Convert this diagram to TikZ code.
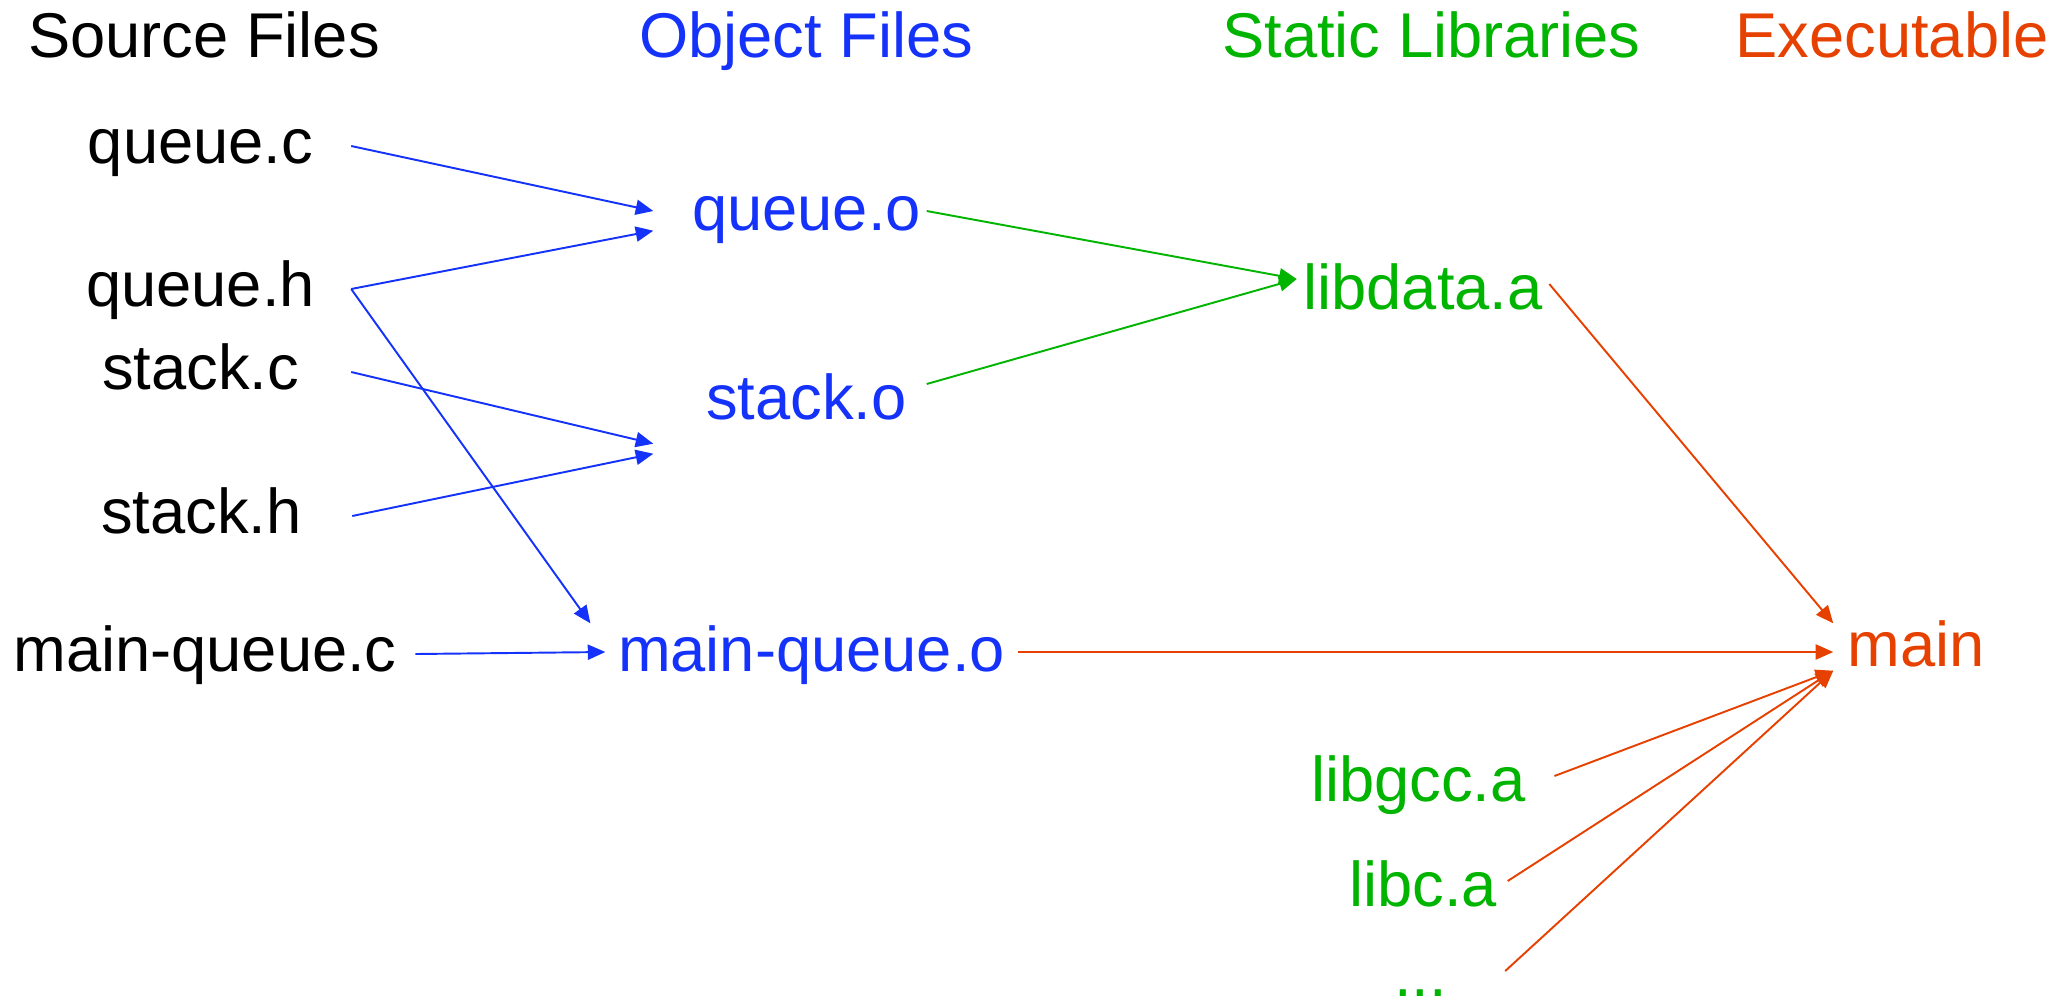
\documentclass[tikz,border=0pt]{standalone}
\usepackage{fontspec}
\setmainfont{Liberation Sans}
\usetikzlibrary{arrows.meta}
\definecolor{objblue}{RGB}{20,50,250}
\definecolor{libgreen}{RGB}{0,180,0}
\definecolor{exered}{RGB}{230,65,0}

\begin{document}
\begin{tikzpicture}[
    every node/.style={font=\fontsize{18pt}{21pt}\selectfont, inner sep=0pt, anchor=base},
    src/.style={minimum width=3cm, inner xsep=0.18cm, text height=0.34cm, text depth=0pt},
    obj/.style={objblue, minimum width=3.05cm, inner xsep=0.12cm, text height=0.38cm, text depth=0pt},
    lib/.style={libgreen, minimum width=1.68cm, inner xsep=0.06cm, text height=0.5cm, text depth=0pt},
    exe/.style={exered, inner xsep=0.14cm, text height=0.42cm, text depth=0.04cm},
    dep/.style={-{Triangle[length=5pt,width=4.3pt]}, line width=0.55pt}
  ]
  \useasboundingbox (0,0) rectangle (20.6,-10.01);

  \node (srchead) at (2.04,-0.57) {Source Files};
  \node[objblue] (objhead) at (8.06,-0.57) {Object Files};
  \node[libgreen] (libhead) at (14.315,-0.57) {Static Libraries};
  \node[exered] (exehead) at (18.92,-0.57) {Executable};

  \node[src] (qc) at (2.005,-1.63) {queue.c};
  \node[src] (qh) at (2.005,-3.06) {queue.h};
  \node[src] (sc) at (2.005,-3.89) {stack.c};
  \node[src] (sh) at (2.015,-5.33) {stack.h};
  \node[src] (mqc) at (2.05,-6.71) {main-queue.c};

  \node[obj] (qo) at (8.065,-2.30) {queue.o};
  \node[obj] (so) at (8.065,-4.19) {stack.o};
  \node[obj] (mqo) at (8.115,-6.71) {main-queue.o};

  \node[lib] (lib) at (14.23,-3.09) {libdata.a};
  \node[lib] (gcc) at (14.185,-8.01) {libgcc.a};
  \node[lib] (libc) at (14.23,-9.06) {libc.a};
  \node[lib] (more) at (14.205,-9.96) {...};

  \node[exe] (main) at (19.165,-6.66) {main};

  \draw[dep, objblue] (qc.east) -- (qo.west);
  \draw[dep, objblue] (qh.east) -- (qo.south west);
  \draw[dep, objblue] (qh.east) -- ([shift={(-0.15,0.09)}]mqo.north west);
  \draw[dep, objblue] (sc.east) -- ([yshift=-0.24cm]so.south west);
  \draw[dep, objblue] (sh.east) -- ([yshift=-0.34cm]so.south west);
  \draw[dep, objblue] (mqc.east) -- (mqo.west);

  \draw[dep, libgreen] ([xshift=-0.33cm]qo.east) -- ([yshift=0.05cm]lib.west);
  \draw[dep, libgreen] ([shift={(-0.33,0.16)}]so.east) -- ([yshift=0.05cm]lib.west);

  \draw[dep, exered] (lib.east) -- (main.north west);
  \draw[dep, exered] (mqo.east) -- (mqo.east -| main.west);
  \draw[dep, exered] ([xshift=0.22cm]gcc.east) -- (main.south west);
  \draw[dep, exered] (libc.east) -- (main.south west);
  \draw[dep, exered] (more.east) -- (main.south west);
\end{tikzpicture}
\end{document}
